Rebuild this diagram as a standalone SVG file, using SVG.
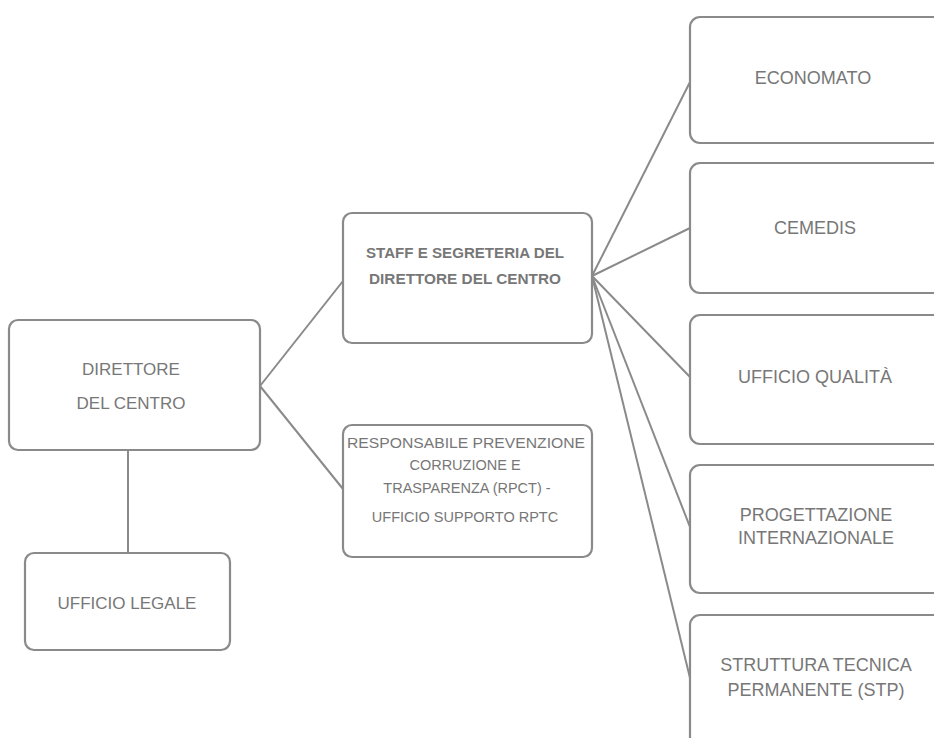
<svg xmlns="http://www.w3.org/2000/svg" width="934" height="738" viewBox="0 0 934 738">
<style>
.box{fill:#ffffff;stroke:#8a8a8a;stroke-width:2.2}
.t{font-family:"Liberation Sans",Arial,sans-serif;fill:#777777;text-anchor:middle;dominant-baseline:central}
.lg{font-size:18px}
.md{font-size:17px}
.sm{font-size:14.5px;font-weight:bold}
.rp{font-size:14.5px}
.con line{stroke:#8a8a8a;stroke-width:2;fill:none}
</style>
<rect width="934" height="738" fill="#ffffff"/>
<g class="con" id="connectors">
<line x1="260" y1="386" x2="343" y2="281"/>
<line x1="260" y1="386" x2="343" y2="489"/>
<line x1="128" y1="450" x2="128" y2="553"/>
<line x1="592" y1="276" x2="690" y2="82"/>
<line x1="592" y1="276" x2="690" y2="228"/>
<line x1="592" y1="276" x2="690" y2="377"/>
<line x1="592" y1="276" x2="690" y2="527"/>
<line x1="592" y1="276" x2="690" y2="678"/>
</g>
<g id="direttore">
<rect class="box" x="9" y="320" width="251" height="130" rx="9"/>
<text class="t md" x="131" y="369">DIRETTORE</text>
<text class="t md" x="131" y="403">DEL CENTRO</text>
</g>
<g id="ufficio-legale">
<rect class="box" x="25" y="553" width="205" height="97" rx="9"/>
<text class="t md" x="127" y="603">UFFICIO LEGALE</text>
</g>
<g id="staff">
<rect class="box" x="343" y="213" width="249" height="130" rx="9"/>
<text class="t sm" x="465" y="253" textLength="198" lengthAdjust="spacingAndGlyphs">STAFF E SEGRETERIA DEL</text>
<text class="t sm" x="465" y="279" textLength="192" lengthAdjust="spacingAndGlyphs">DIRETTORE DEL CENTRO</text>
</g>
<g id="rpct">
<rect class="box" x="343" y="425" width="249" height="132" rx="9"/>
<text class="t rp" x="466" y="443" textLength="238" lengthAdjust="spacingAndGlyphs">RESPONSABILE PREVENZIONE</text>
<text class="t rp" x="465" y="465">CORRUZIONE E</text>
<text class="t rp" x="467" y="488">TRASPARENZA (RPCT) -</text>
<text class="t rp" x="465" y="517">UFFICIO SUPPORTO RPTC</text>
</g>
<g id="economato">
<rect class="box" x="690" y="17" width="260" height="126" rx="10"/>
<text class="t lg" x="813" y="78">ECONOMATO</text>
</g>
<g id="cemedis">
<rect class="box" x="690" y="163" width="260" height="130" rx="10"/>
<text class="t lg" x="815" y="228">CEMEDIS</text>
</g>
<g id="ufficio-qualita">
<rect class="box" x="690" y="315" width="260" height="129" rx="10"/>
<text class="t lg" x="815" y="377">UFFICIO QUALITÀ</text>
</g>
<g id="progettazione">
<rect class="box" x="690" y="465" width="260" height="128" rx="10"/>
<text class="t lg" x="816" y="515">PROGETTAZIONE</text>
<text class="t lg" x="816" y="538">INTERNAZIONALE</text>
</g>
<g id="stp">
<rect class="box" x="690" y="615" width="260" height="140" rx="10"/>
<text class="t lg" x="816" y="665">STRUTTURA TECNICA</text>
<text class="t lg" x="816" y="690">PERMANENTE (STP)</text>
</g>
</svg>
